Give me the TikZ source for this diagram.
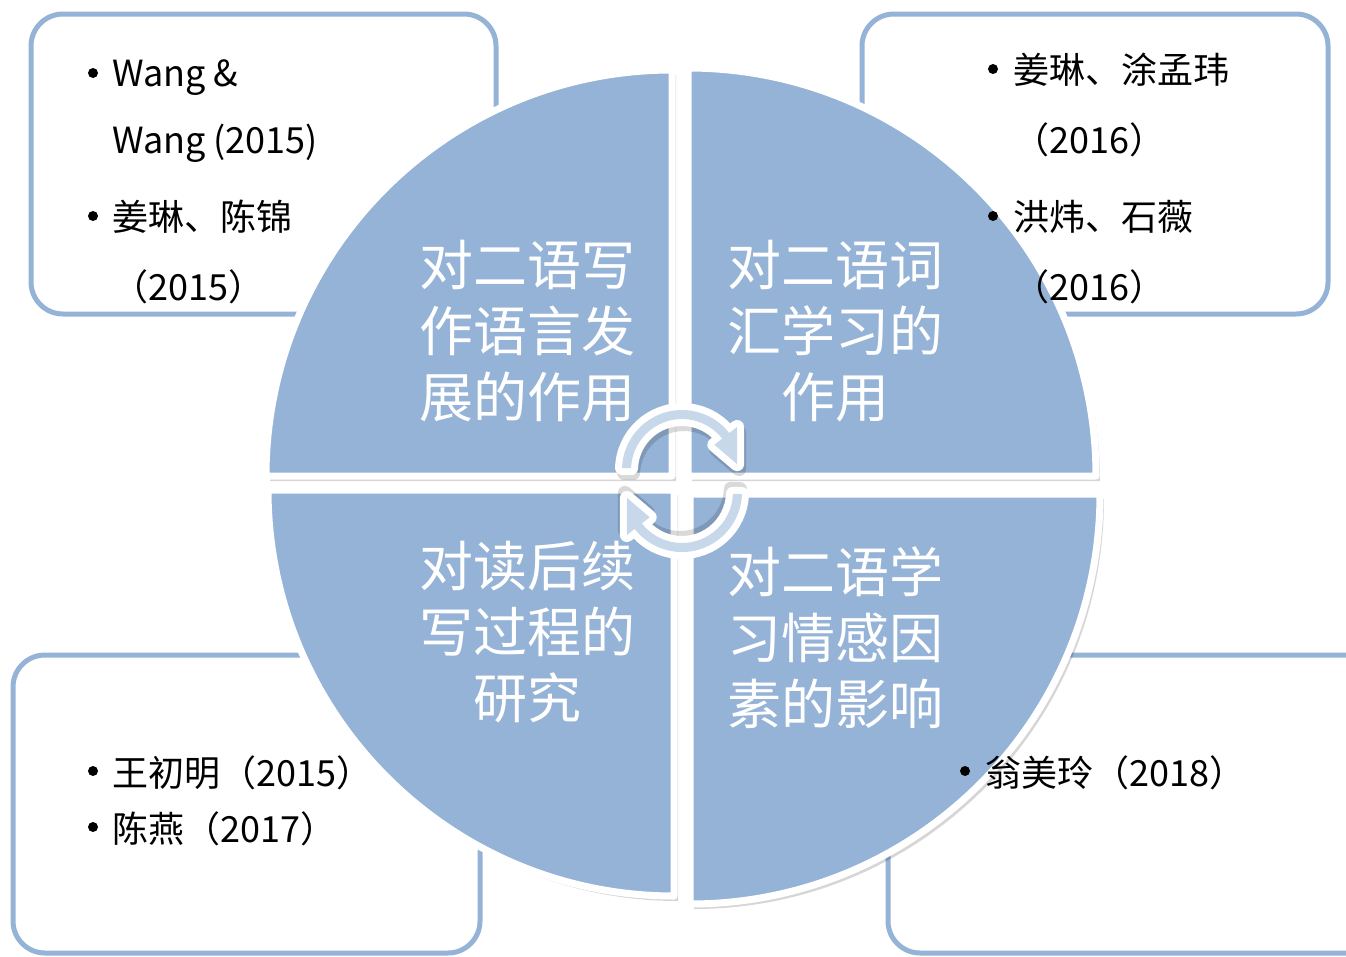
\documentclass[tikz,border=0pt]{standalone}
\usepackage{fontspec}
\setmainfont{Noto Sans CJK SC}
\definecolor{qblue}{HTML}{95B3D7}
\definecolor{aband}{HTML}{C8D8EB}
\definecolor{bline}{HTML}{95B3D7}
\begin{document}
\begin{tikzpicture}[x=1pt,y=-1pt,
  box/.style={draw=bline, line width=5pt, rounded corners=32pt},
  quad/.style={fill=qblue, draw=white, line width=7pt, line join=round},
  qshadow/.style={fill=black, opacity=0.16},
  qtext/.style={text=white, font=\fontsize{54}{66}\selectfont, align=center, inner sep=0pt},
  btext/.style={font=\fontsize{36}{40}\selectfont, anchor=base west, inner sep=0pt},
  bul/.style={fill=black},
  arrowout/.style={fill=white, draw=white, line width=14pt, line join=round},
  arrowin/.style={fill=aband},
  ashadow/.style={fill=black, opacity=0.15, draw=black, draw opacity=0.15, line width=14pt, line join=round}
  ]
\useasboundingbox (0,0) rectangle (1346,956);
\fill[white] (0,0) rectangle (1346,956);
% boxes
\draw[box] (31,14) rectangle (496,314);
\draw[box] (862,14) rectangle (1328,314);
\draw[box] (13,655) rectangle (480,953);
\draw[box] (888,655) rectangle (1380,953);
% quadrant shadows
\fill[qshadow] (676,481) -- ++(-406,0) arc[start angle=180,end angle=270,radius=406] -- cycle;
\fill[qshadow] (692,481) -- ++(0,-408) arc[start angle=270,end angle=360,radius=408] -- cycle;
\fill[qshadow] (678,495) -- ++(0,406) arc[start angle=90,end angle=180,radius=406] -- cycle;
\fill[qshadow] (694,499) -- ++(410,0) arc[start angle=0,end angle=90,radius=410] -- cycle;
% quadrants
\filldraw[quad] (672,476) -- ++(-406,0) arc[start angle=180,end angle=270,radius=406] -- cycle;
\filldraw[quad] (688,476) -- ++(0,-408) arc[start angle=270,end angle=360,radius=408] -- cycle;
\filldraw[quad] (674,490) -- ++(0,406) arc[start angle=90,end angle=180,radius=406] -- cycle;
\filldraw[quad] (690,494) -- ++(410,0) arc[start angle=0,end angle=90,radius=410] -- cycle;
% quadrant texts
\node[qtext] (q1) at (527,331) {对二语写\\作语言发\\展的作用};
\node[qtext] (q2) at (835,331) {对二语词\\汇学习的\\作用};
\node[qtext] (q3) at (527,632) {对读后续\\写过程的\\研究};
\node[qtext] (q4) at (835,638) {对二语学\\习情感因\\素的影响};
% arrows
\foreach \cx/\cy/\rot in {682/470/0, 682/492/180}{
  \begin{scope}[shift={(\cx,\cy)}, rotate=\rot]
    \begin{scope}[shift={(2,5)}]
    \filldraw[ashadow] (182:60) arc[start angle=182,end angle=322,radius=60] -- (322:70) -- (354:55.5) -- (322:41) -- (322:51) arc[start angle=322,end angle=182,radius=51] -- cycle;
    \end{scope}
    \filldraw[arrowout] (182:60) arc[start angle=182,end angle=322,radius=60] -- (322:70) -- (354:55.5) -- (322:41) -- (322:51) arc[start angle=322,end angle=182,radius=51] -- cycle;
    \fill[arrowin] (182:60) arc[start angle=182,end angle=322,radius=60] -- (322:70) -- (354:55.5) -- (322:41) -- (322:51) arc[start angle=322,end angle=182,radius=51] -- cycle;
  \end{scope}
}
% box texts
\fill[bul] (93,73) circle (5);
\fill[bul] (93,216) circle (5);
\node[btext] (a1) at (112,86) {Wang \&};
\node[btext] (a2) at (112,153) {Wang (2015)};
\node[btext] (a3) at (112,230) {姜琳、陈锦};
\node[btext] (a4) at (112,300) {（2015）};
\fill[bul] (993,69) circle (5);
\fill[bul] (993,216) circle (5);
\node[btext] (b1) at (1013,83) {姜琳、涂孟玮};
\node[btext] (b2) at (1013,153) {（2016）};
\node[btext] (b3) at (1013,230) {洪炜、石薇};
\node[btext] (b4) at (1013,300) {（2016）};
\fill[bul] (93,771) circle (5);
\fill[bul] (93,827) circle (5);
\node[btext] (c1) at (112,786) {王初明（2015）};
\node[btext] (c2) at (112,842) {陈燕（2017）};
\fill[bul] (965,771) circle (5);
\node[btext] (d1) at (985,786) {翁美玲（2018）};
\end{tikzpicture}
\end{document}
